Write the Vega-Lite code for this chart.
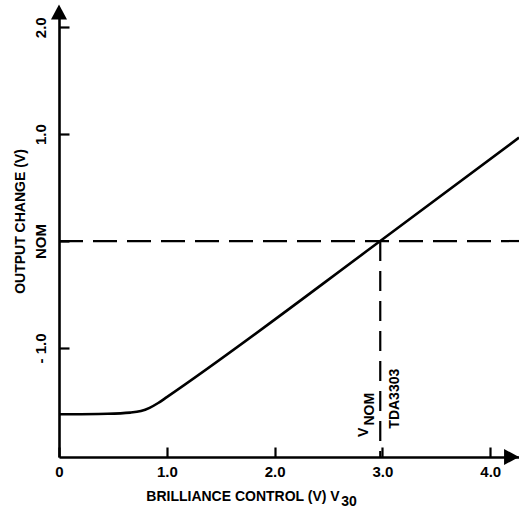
{
  "$schema": "https://vega.github.io/schema/vega-lite/v6.json",
  "width": 460,
  "height": 449,
  "autosize": "none",
  "padding": {"left": 59, "top": 8, "right": 0, "bottom": 52},
  "background": "white",
  "config": {
    "view": {"stroke": null},
    "font": "Liberation Sans",
    "axis": {
      "grid": false,
      "domainColor": "black",
      "domainWidth": 2.6,
      "tickColor": "black",
      "tickWidth": 2.2,
      "tickSize": -10,
      "labelFont": "Liberation Sans",
      "labelFontSize": 15,
      "labelFontWeight": "bold",
      "labelColor": "black",
      "labelFlush": false,
      "labelOverlap": false,
      "titleFont": "Liberation Sans",
      "titleFontSize": 14,
      "titleFontWeight": "bold",
      "titleColor": "black"
    }
  },
  "datasets": {
    "curve": [
      {"x": 0.0, "y": -1.62},
      {"x": 0.45, "y": -1.615},
      {"x": 0.66, "y": -1.605},
      {"x": 0.76, "y": -1.59},
      {"x": 0.84, "y": -1.56},
      {"x": 0.92, "y": -1.515},
      {"x": 1.0, "y": -1.46},
      {"x": 2.98, "y": 0.0},
      {"x": 4.267, "y": 0.968}
    ],
    "hline": [{"x": 0, "x2": 4.267, "y": 0}],
    "vline": [{"x": 2.98, "y": 0, "y2": -2.02}],
    "arrows": [
      {"x": 0, "y": 2.142, "dir": "up"},
      {"x": 4.198, "y": -2.02, "dir": "right"}
    ],
    "rotlabels": [
      {"x": 2.862, "y": -1.834, "text": "V"},
      {"x": 2.924, "y": -1.726, "text": "NOM"},
      {"x": 3.156, "y": -1.755, "text": "TDA3303"}
    ],
    "sub": [{"x": 2.69, "y": -2.479, "text": "30"}]
  },
  "layer": [
    {
      "data": {"name": "curve"},
      "mark": {"type": "line", "color": "black", "strokeWidth": 2.6, "interpolate": "monotone"},
      "encoding": {
        "x": {
          "field": "x", "type": "quantitative",
          "scale": {"domain": [0, 4.267], "nice": false, "zero": false},
          "axis": {
            "values": [0, 1, 2, 3, 4],
            "labelExpr": "datum.value == 0 ? '0' : format(datum.value, '.1f')",
            "labelBaseline": "top",
            "labelPadding": 17,
            "title": "BRILLIANCE CONTROL (V) V",
            "titleX": 183.5,
            "titleY": 43,
            "titleAlign": "center",
            "titleBaseline": "alphabetic"
          }
        },
        "y": {
          "field": "y", "type": "quantitative",
          "scale": {"domain": [-2.02, 2.18], "nice": false, "zero": false},
          "axis": {
            "values": [-1, 0, 1, 2],
            "labelExpr": "datum.value == 0 ? 'NOM' : datum.value == -1 ? '- 1.0' : format(datum.value, '.1f')",
            "labelAngle": 270,
            "labelAlign": "center",
            "labelBaseline": "alphabetic",
            "labelPadding": 24,
            "title": "OUTPUT CHANGE (V)",
            "titleAngle": 270,
            "titleX": -35,
            "titleY": 213,
            "titleAlign": "center",
            "titleBaseline": "alphabetic"
          }
        }
      }
    },
    {
      "data": {"name": "hline"},
      "mark": {"type": "rule", "color": "black", "strokeWidth": 2.2, "strokeDash": [24, 10]},
      "encoding": {
        "x": {"field": "x", "type": "quantitative"},
        "x2": {"field": "x2"},
        "y": {"field": "y", "type": "quantitative"}
      }
    },
    {
      "data": {"name": "vline"},
      "mark": {"type": "rule", "color": "black", "strokeWidth": 2.2, "strokeDash": [20, 10]},
      "encoding": {
        "x": {"field": "x", "type": "quantitative"},
        "y": {"field": "y", "type": "quantitative"},
        "y2": {"field": "y2"}
      }
    },
    {
      "data": {"name": "arrows"},
      "transform": [{"filter": "datum.dir == 'up'"}],
      "mark": {"type": "point", "shape": "M0,-1L-1.07,1L1.07,1Z", "size": 225, "filled": true, "color": "black", "opacity": 1, "clip": false},
      "encoding": {
        "x": {"field": "x", "type": "quantitative"},
        "y": {"field": "y", "type": "quantitative"}
      }
    },
    {
      "data": {"name": "arrows"},
      "transform": [{"filter": "datum.dir == 'right'"}],
      "mark": {"type": "point", "shape": "M1,0L-1,-1.07L-1,1.07Z", "size": 225, "filled": true, "color": "black", "opacity": 1, "clip": false},
      "encoding": {
        "x": {"field": "x", "type": "quantitative"},
        "y": {"field": "y", "type": "quantitative"}
      }
    },
    {
      "data": {"name": "rotlabels"},
      "mark": {"type": "text", "angle": 270, "align": "left", "baseline": "alphabetic", "font": "Liberation Sans", "fontSize": 14, "fontWeight": "bold", "color": "black"},
      "encoding": {
        "x": {"field": "x", "type": "quantitative"},
        "y": {"field": "y", "type": "quantitative"},
        "text": {"field": "text"}
      }
    },
    {
      "data": {"name": "sub"},
      "mark": {"type": "text", "align": "center", "baseline": "alphabetic", "font": "Liberation Sans", "fontSize": 14, "fontWeight": "bold", "color": "black", "clip": false},
      "encoding": {
        "x": {"field": "x", "type": "quantitative"},
        "y": {"field": "y", "type": "quantitative"},
        "text": {"field": "text"}
      }
    }
  ]
}
